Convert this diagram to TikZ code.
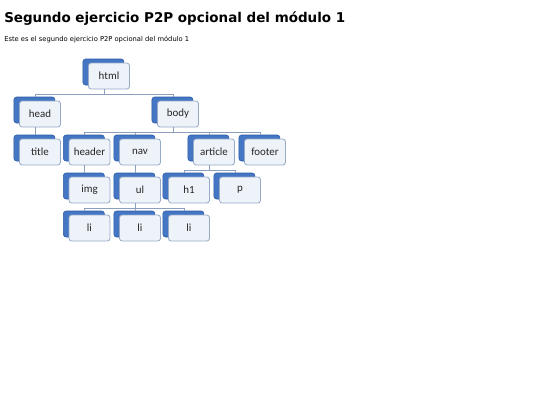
\documentclass[tikz,border=0pt]{standalone}
\usepackage{fontspec}
\setmainfont{Carlito}
\newfontfamily\headfont{DejaVu Sans}
\usepackage{tikz}
\usetikzlibrary{calc,shadows,positioning}

\definecolor{backblue}{RGB}{68,118,196}
\definecolor{backdark}{RGB}{44,90,166}
\definecolor{frontfill}{RGB}{238,242,249}
\definecolor{frontdraw}{RGB}{150,170,200}
\definecolor{linkgrey}{RGB}{140,160,190}

\tikzset{
  item/.style={draw=frontdraw, fill=frontfill, rounded corners=2pt, line width=0.6pt,
    minimum width=41*0.75pt, minimum height=26*0.75pt, inner sep=0pt,
    font=\fontsize{8.2}{10}\selectfont, text=black!85,
    copy shadow={shadow xshift=-4.2pt, shadow yshift=3pt, fill=backblue, draw=backdark, line width=0.4pt}},
  link/.style={draw=linkgrey, line width=0.6pt},
}

\begin{document}
\begin{tikzpicture}[x=0.75pt,y=0.75pt,yscale=-1,xscale=1]
\useasboundingbox (0,0) rectangle (540,405);

% Headings
\node (heading) at (4,22.7) [anchor=base west, inner sep=0pt, font=\headfont\bfseries\fontsize{10.1}{12}\selectfont] {Segundo ejercicio P2P opcional del módulo 1};
\node (intro) at (4,41) [anchor=base west, inner sep=0pt, font=\headfont\fontsize{5.05}{6}\selectfont] {Este es el segundo ejercicio P2P opcional del módulo 1};

% Tree boxes
\node [item] (html) at (109,76) {html};
\node [item] (head) at (40,114) {head};
\node [item] (body) at (178,114) {body};
\node [item] (title) at (40,152) {title};
\node [item] (header) at (89.5,152) {header};
\node [item] (nav) at (140,152) {nav};
\node [item] (article) at (214,152) {article};
\node [item] (footer) at (265,152) {footer};
\node [item] (img) at (89.5,190) {img};
\node [item] (ul) at (140,190) {ul};
\node [item] (h1) at (189,190) {h1};
\node [item] (p) at (240,190) {p};
\node [item] (li1) at (89.5,228) {li};
\node [item] (li2) at (140,228) {li};
\node [item] (li3) at (189,228) {li};

% Links
\draw [link] ($(html.south)+(-5,0)$) -- ++(0,4.5) coordinate (htmlbar);
\draw [link] (htmlbar) -| ($(head.north)+(-5,-4)$);
\draw [link] (htmlbar) -| ($(body.north)+(-5,-4)$);
\draw [link] ($(head.south)+(-5,0)$) -- ($(title.north)+(-5,-4)$);
\draw [link] ($(body.south)+(-5,0)$) -- ++(0,4.5) coordinate (bodybar);
\draw [link] (bodybar) -| ($(header.north)+(-5,-4)$);
\draw [link] (bodybar) -| ($(nav.north)+(-5,-4)$);
\draw [link] (bodybar) -| ($(article.north)+(-5,-4)$);
\draw [link] (bodybar) -| ($(footer.north)+(-5,-4)$);
\draw [link] ($(header.south)+(-5,0)$) -- ($(img.north)+(-5,-4)$);
\draw [link] ($(nav.south)+(-5,0)$) -- ($(ul.north)+(-5,-4)$);
\draw [link] ($(article.south)+(-5,0)$) -- ++(0,4.5) coordinate (articlebar);
\draw [link] (articlebar) -| ($(h1.north)+(-5,-4)$);
\draw [link] (articlebar) -| ($(p.north)+(-5,-4)$);
\draw [link] ($(ul.south)+(-5,0)$) -- ++(0,4.5) coordinate (ulbar);
\draw [link] (ulbar) -| ($(li1.north)+(-5,-4)$);
\draw [link] (ulbar) -| ($(li2.north)+(-5,-4)$);
\draw [link] (ulbar) -| ($(li3.north)+(-5,-4)$);

\end{tikzpicture}
\end{document}
